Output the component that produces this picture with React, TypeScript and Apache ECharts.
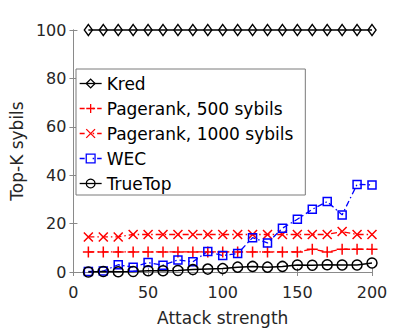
import React, { useEffect, useRef } from "react";
import * as echarts from "echarts";

const attackStrength = [10, 20, 30, 40, 50, 60, 70, 80, 90, 100, 110, 120, 130, 140, 150, 160, 170, 180, 190, 200];
const kred = [100, 100, 100, 100, 100, 100, 100, 100, 100, 100, 100, 100, 100, 100, 100, 100, 100, 100, 100, 100];
const pagerank500 = [8.3, 8.3, 8.3, 8.3, 8.3, 8.3, 8.3, 8.3, 8.3, 8.3, 8.3, 8.3, 8.3, 8.3, 8.3, 9.4, 8.3, 9.4, 9.4, 9.4];
const pagerank1000 = [14.5, 14.5, 14.5, 15.5, 15.5, 15.5, 15.5, 15.5, 15.5, 15.5, 15.5, 15.5, 15.5, 15.5, 15.5, 15.5, 15.5, 16.7, 15.5, 15.5];
const wec = [0.2, 0.4, 3.0, 2.0, 3.9, 2.8, 5.0, 4.2, 8.5, 6.8, 7.6, 14.2, 12.0, 18.1, 21.8, 25.9, 29.1, 23.6, 36.2, 36.0];
const trueTop = [0, 0.2, 0.1, 0.2, 0.5, 0.5, 0.6, 1.0, 1.2, 1.4, 2.0, 2.3, 2.0, 2.3, 2.9, 2.8, 3.0, 2.9, 2.9, 3.7];

const seriesNames = ["Kred", "Pagerank, 500 sybils", "Pagerank, 1000 sybils", "WEC", "TrueTop"];
const xTicks = { min: 0, max: 200, interval: 50 };
const yTicks = { min: 0, max: 100, interval: 20 };

const FONT = "DejaVu Sans";
const AXIS_COLOR = "#8a8a8a";
const PLUS = "path://M5,0L5,10M0,5L10,5";
const CROSS = "path://M0,0L10,10M10,0L0,10";
const CLEAR = "rgba(255,255,255,0)";

function pairs(ys: number[]) {
  return attackStrength.map((x, i) => [x, ys[i]]);
}

export default function App() {
  const ref = useRef<HTMLDivElement>(null);
  useEffect(() => {
    if (!ref.current) return;
    const chart = echarts.init(ref.current, null, { renderer: "svg" });
    const dashDot = [6, 3, 1.5, 3];
    const legendDash = [5, 8, 1.5, 3];
    const axisCommon = {
      axisLine: { show: true, lineStyle: { color: AXIS_COLOR, width: 1 } },
      axisTick: { show: true, inside: true, length: 4, lineStyle: { color: AXIS_COLOR } },
      splitLine: { show: false },
    };
    const colors = ["#000", "#ff0000", "#ff0000", "#0000ff", "#000"];
    const dashed = [false, true, true, true, false];
    chart.setOption({
      animation: false,
      backgroundColor: "#fff",
      grid: { left: 69, right: 43, top: 30, bottom: 61 },
      xAxis: [
        {
          type: "value",
          ...xTicks,
          ...axisCommon,
          name: "Attack strength",
          nameLocation: "middle",
          nameGap: 37,
          nameTextStyle: { fontFamily: FONT, fontSize: 17, color: "#262626" },
          axisLabel: { fontFamily: FONT, fontSize: 16, color: "#262626", margin: 12 },
        },
        {
          type: "value",
          position: "top",
          ...xTicks,
          ...axisCommon,
          axisLabel: { show: false },
        },
      ],
      yAxis: [
        {
          type: "value",
          ...yTicks,
          ...axisCommon,
          name: "Top-K sybils",
          nameLocation: "middle",
          nameGap: 46,
          nameTextStyle: { fontFamily: FONT, fontSize: 17, color: "#262626" },
          axisLabel: { fontFamily: FONT, fontSize: 16, color: "#262626", margin: 7 },
        },
        {
          type: "value",
          position: "right",
          ...yTicks,
          ...axisCommon,
          axisLabel: { show: false },
        },
      ],
      legend: {
        orient: "vertical",
        left: 76,
        top: 69,
        data: seriesNames.map((name, i) => ({
          name,
          itemStyle: { color: CLEAR, borderColor: colors[i], borderWidth: 1.3 },
          lineStyle: { color: colors[i], width: 1.3, type: dashed[i] ? legendDash : "solid" },
        })),
        itemWidth: 22,
        itemHeight: 11,
        itemGap: 8,
        padding: [6, 12, 3, 3],
        borderColor: "#7a7a7a",
        borderWidth: 1,
        backgroundColor: "#fff",
        textStyle: { fontFamily: FONT, fontSize: 17, color: "#000" },
      },
      series: [
        {
          name: seriesNames[0],
          type: "line",
          data: pairs(kred),
          symbol: "diamond",
          symbolSize: [8, 11],
          clip: false,
          lineStyle: { color: "#000", width: 1.5 },
          itemStyle: { color: CLEAR, borderColor: "#000", borderWidth: 1.5 },
        },
        {
          name: seriesNames[1],
          type: "line",
          data: pairs(pagerank500),
          symbol: PLUS,
          symbolSize: 11,
          lineStyle: { color: "#ff0000", width: 1.3, type: dashDot },
          itemStyle: { color: CLEAR, borderColor: "#ff0000", borderWidth: 1.5 },
        },
        {
          name: seriesNames[2],
          type: "line",
          data: pairs(pagerank1000),
          symbol: CROSS,
          symbolSize: 9,
          lineStyle: { color: "#ff0000", width: 1.3, type: dashDot },
          itemStyle: { color: CLEAR, borderColor: "#ff0000", borderWidth: 1.5 },
        },
        {
          name: seriesNames[3],
          type: "line",
          data: pairs(wec),
          symbol: "rect",
          symbolSize: 8,
          lineStyle: { color: "#0000ff", width: 1.3, type: dashDot },
          itemStyle: { color: CLEAR, borderColor: "#0000ff", borderWidth: 1.5 },
        },
        {
          name: seriesNames[4],
          type: "line",
          data: pairs(trueTop),
          symbol: "circle",
          symbolSize: 10,
          clip: false,
          lineStyle: { color: "#000", width: 1.5 },
          itemStyle: { color: CLEAR, borderColor: "#000", borderWidth: 1.5 },
        },
      ],
    });
    return () => chart.dispose();
  }, []);
  return (
    <div
      ref={ref}
      style={{ position: "fixed", left: 0, top: 0, width: 415, height: 333, background: "#fff" }}
    />
  );
}
